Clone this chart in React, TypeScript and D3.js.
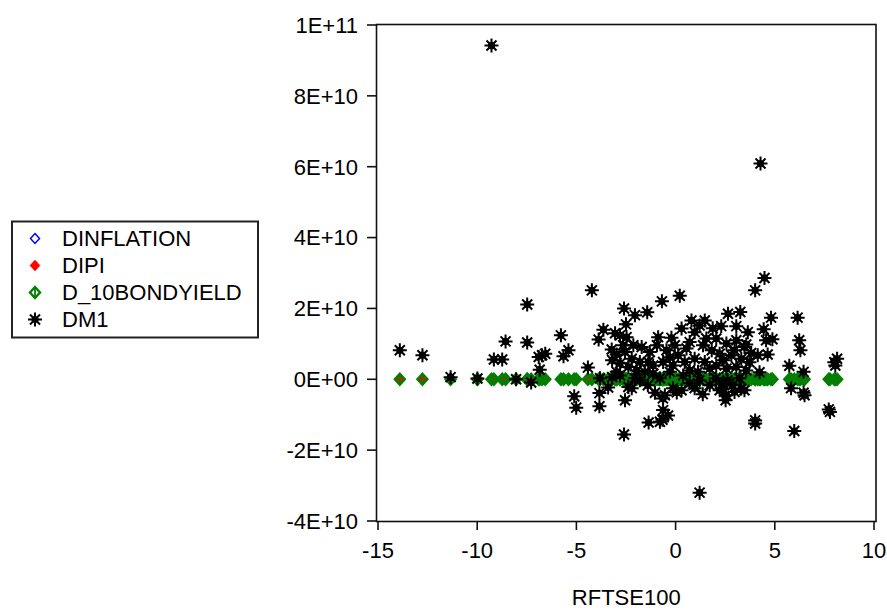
import React from "react";
import * as d3 from "d3";

// RFTSE100 (x) and DM1 (y), one pair per observation
const rftse100 = [
  -13.9, -12.76, -11.34, -9.99, -9.16, -8.74, -8.57, -7.48, -7.48, -8.04,
  -7.28, -6.9, -6.73, -6.57, -6.85, -5.78, -5.4, -5.65, -5.11, -5.01,
  -4.22, -4.42, -3.84, -3.84, -3.4, -3.64, -3.05, -3.88, -3.22, -2.97,
  -2.97, -2.8, -2.55, -2.38, -2.6, -2.6, -2.05, -1.43, -2.5, -0.69,
  0.21, 4.48, 4.01, 4.28, -9.28, 1.21, 4.81, 6.15, 4.44, 4.56,
  4.88, 6.23, 6.29, 3.56, 3.81, 4.14, 4.64, 5.73, 6.45, 5.82,
  6.45, 6.5, 8.14, 8.05, 8.0, 7.78, 7.72, 4.01, 4.01, 5.98,
  3.47, -1.36, -0.66, -0.63, -0.38, -0.79, -1.04, -0.54, -0.13, 0.3,
  0.96, 2.22, 2.56, 2.97, 3.31, -2.21, 2.52, 2.37,
  -2.47, -2.13, -1.71, -1.3, -2.55, -2.21, -1.8, -1.38, -1.13, -2.38,
  -1.96, -1.55, -1.13, -2.64, -0.88, -2.8, -3.2,
  -0.21, 0.8, 1.21, 0.3, 0.96, -0.46, 0.13, 0.55, 1.38, 1.55,
  -0.63, -0.13, 0.46, 0.96, 1.47, -0.29, 0.38, 1.13, 1.72, 0.71,
  2.64, 3.26, 2.3, 3.06, 2.05, 2.56, 3.06, 3.47, 2.22, 2.81,
  3.31, 2.05, 2.56, 3.06, 3.56, 3.64,
  1.21, 3.22, 0.71, -1.8, 1.72, 2.32, 2.87, 2.62, -0.64, 0.06, 1.37,
  -3.2, -0.94, -0.04, 1.82, 1.87, 0.71, -0.79, -1.4, 2.02, 3.72,
  4.23, -2.05, -3.81, 1.47, 2.97, -0.29, -2.8, 2.42,
];

const dm1 = [
  8.2e9, 6.8e9, 0.6e9, 0.2e9, 5.6e9, 5.6e9, 10.7e9, 21.1e9, 10.4e9, 0.0,
  -0.9e9, 6.3e9, 6.8e9, 7.2e9, 2.7e9, 12.4e9, 8.2e9, 6.5e9, -4.8e9, -8.0e9,
  25.1e9, 3.3e9, -3.9e9, -7.6e9, -2.3e9, 14.0e9, 13.0e9, 11.2e9, 8.4e9, 7.0e9,
  2.1e9, 4.5e9, -5.9e9, -2.2e9, -15.6e9, 20.0e9, 18.1e9, 18.9e9, 15.5e9, 22.0e9,
  23.6e9, 28.6e9, 25.1e9, 60.9e9, 94.2e9, -32.0e9, 17.4e9, 17.4e9, 14.1e9, 11.0e9,
  11.3e9, 11.0e9, 8.2e9, 9.8e9, 7.4e9, 6.8e9, 7.0e9, 3.8e9, 2.1e9, -2.5e9,
  -3.8e9, -4.5e9, 5.8e9, 3.9e9, 4.8e9, -9.2e9, -8.5e9, -11.6e9, -12.5e9, -14.6e9,
  -3.1e9, -12.2e9, -11.4e9, -8.7e9, -10.2e9, -12.0e9, -3.8e9, -4.5e9, -2.5e9, -3.1e9,
  -2.5e9, -3.1e9, -4.5e9, -3.6e9, -2.6e9, -2.5e9, -5.9e9, -1.1e9,
  11.9e9, 9.6e9, 9.1e9, 7.7e9, 7.7e9, 5.8e9, 4.9e9, 4.9e9, 3.9e9, 3.5e9,
  2.5e9, 2.1e9, 1.6e9, 9.6e9, 11.9e9, 1.1e9, 0.6e9,
  11.7e9, 16.6e9, 15.2e9, 14.3e9, 13.3e9, 8.2e9, 6.8e9, 8.7e9, 9.6e9, 11.5e9,
  4.9e9, 3.9e9, 4.9e9, 5.8e9, 4.9e9, 2.1e9, 1.1e9, 2.1e9, 3.0e9, 10.5e9,
  18.5e9, 19.0e9, 15.0e9, 15.0e9, 11.5e9, 10.1e9, 11.0e9, 9.1e9, 7.2e9, 6.8e9,
  5.8e9, 3.9e9, 3.0e9, 3.5e9, 2.5e9, 13.3e9,
  -0.3e9, 0.3e9, -1.1e9, -0.3e9, -1.7e9, -2.5e9, -1.7e9, -0.3e9, -5.4e9, -3.7e9, -4.2e9,
  5.4e9, 9.6e9, 9.6e9, 8.2e9, 14.4e9, 2.5e9, 0.3e9, -1.7e9, 0.3e9, 4.8e9,
  2.0e9, 0.3e9, 0.3e9, 16.6e9, 8.2e9, 6.2e9, 12.4e9, 5.4e9,
];

// the three other series read as 0 at this scale for every observation
const dinflation = rftse100.map(() => 0);
const dipi = rftse100.map(() => 0);
const d10bondyield = rftse100.map(() => 0);

const seriesNames = ["DINFLATION", "DIPI", "D_10BONDYIELD", "DM1"];
const xTicks = [-15, -10, -5, 0, 5, 10];
const yTicks = [1e11, 8e10, 6e10, 4e10, 2e10, 0, -2e10, -4e10];

const W = 887;
const H = 613;
const FONT = "'Liberation Sans', Arial, sans-serif";
const FS = 22;

const plot = { left: 376.5, right: 876, top: 24.5, bottom: 521.5 };

function sciFmt(v: number) {
  if (v === 0) return "0E+00";
  const e = Math.floor(Math.log10(Math.abs(v)));
  const m = Math.round(v / Math.pow(10, e));
  return m + "E+" + String(e).padStart(2, "0");
}

const diamond = (rx: number, ry: number) => `M0,${-ry}L${rx},0L0,${ry}L${-rx},0Z`;

function Marker({ kind }: { kind: number }) {
  if (kind === 0) return <path d={diamond(4.5, 5)} fill="none" stroke="#0000ff" strokeWidth={1.5} />;
  if (kind === 1) return <path d={diamond(4.8, 5.2)} fill="#ff0000" stroke="#ff0000" strokeWidth={1} />;
  if (kind === 2)
    return (
      <g>
        <path d={diamond(5, 5.5)} fill="none" stroke="#008000" strokeWidth={2.4} />
        <path d="M0,-5.5V5.5" stroke="#008000" strokeWidth={1.8} />
      </g>
    );
  return (
    <g stroke="#000" strokeWidth={2}>
      <path d="M-7,0H7M0,-7V7M-5,-5L5,5M-5,5L5,-5" />
      <circle r={3.6} fill="#000" stroke="none" />
    </g>
  );
}

export default function App() {
  const x = d3.scaleLinear().domain([-15, 10]).range([378, 874]);
  const y = d3.scaleLinear().domain([-4e10, 1e11]).range([521, 25]);

  const layers = [dinflation, dipi, d10bondyield, dm1];

  return (
    <svg width={W} height={H} style={{ position: "absolute", left: 0, top: 0, background: "#fff" }} fontFamily={FONT}>
      <rect width={W} height={H} fill="#fff" />

      {/* legend */}
      <rect x={12} y={221.5} width={246} height={116} fill="#fff" stroke="#222" strokeWidth={2} />
      {seriesNames.map((name, i) => (
        <g key={name} transform={`translate(0,${238.5 + i * 27})`}>
          <g transform="translate(35,0)">
            <Marker kind={i} />
          </g>
          <text x={62} dy="0.36em" fontSize={FS} fill="#000">{name}</text>
        </g>
      ))}

      {/* points, series drawn in order */}
      {layers.map((vals, k) => (
        <g key={k}>
          {vals.map((v, i) => (
            <g key={i} transform={`translate(${x(rftse100[i])},${y(v)})`}>
              <Marker kind={k} />
            </g>
          ))}
        </g>
      ))}

      {/* frame */}
      <rect
        x={plot.left}
        y={plot.top}
        width={plot.right - plot.left}
        height={plot.bottom - plot.top}
        fill="none"
        stroke="#111"
        strokeWidth={1.6}
      />

      {/* y axis */}
      {yTicks.map((t) => (
        <g key={t} transform={`translate(0,${y(t)})`}>
          <line x1={367} x2={plot.left} stroke="#111" strokeWidth={1.6} />
          <text x={358} dy="0.36em" textAnchor="end" fontSize={FS} fill="#000">{sciFmt(t)}</text>
        </g>
      ))}

      {/* x axis */}
      {xTicks.map((t) => (
        <g key={t} transform={`translate(${x(t)},0)`}>
          <line y1={plot.bottom} y2={530} stroke="#111" strokeWidth={1.6} />
          <text y={558} textAnchor="middle" fontSize={FS} fill="#000">{t}</text>
        </g>
      ))}

      <text x={(plot.left + plot.right) / 2} y={605} textAnchor="middle" fontSize={FS} fill="#000">
        RFTSE100
      </text>
    </svg>
  );
}
